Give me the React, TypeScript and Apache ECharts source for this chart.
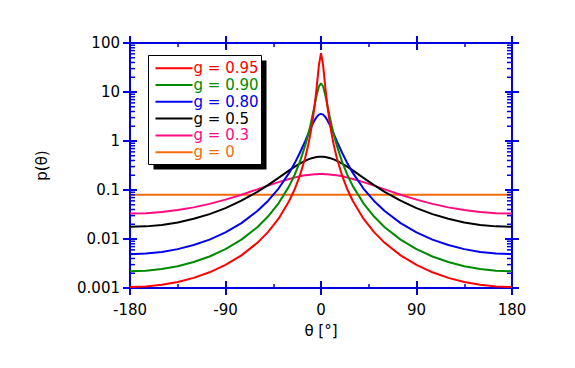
import React, { useEffect, useRef } from "react";
import * as echarts from "echarts";

const angles = [-180,-165,-150,-135,-120,-105,-90,-75,-60,-50,-40,-30,-25,-20,-15,-12,-10,-8,-6,-4,-2,0,2,4,6,8,10,12,15,20,25,30,40,50,60,75,90,105,120,135,150,165,180];

const g95 = [0.00105,0.00107,0.00116,0.00133,0.00161,0.00209,0.00296,0.00463,0.00835,0.0138,0.0260,0.0595,0.101,0.194,0.445,0.840,1.40,2.55,5.29,12.9,35.1,62.1,35.1,12.9,5.29,2.55,1.40,0.840,0.445,0.194,0.101,0.0595,0.0260,0.0138,0.00835,0.00463,0.00296,0.00209,0.00161,0.00133,0.00116,0.00107,0.00105];
const g90 = [0.00220,0.00226,0.00245,0.00279,0.00339,0.00440,0.00621,0.00970,0.0174,0.0287,0.0534,0.120,0.200,0.370,0.794,1.38,2.10,3.31,5.40,8.76,12.9,15.1,12.9,8.76,5.40,3.31,2.10,1.38,0.794,0.370,0.200,0.120,0.0534,0.0287,0.0174,0.00970,0.00621,0.00440,0.00339,0.00279,0.00245,0.00226,0.00220];
const g80 = [0.00491,0.00504,0.00544,0.00621,0.00752,0.00973,0.0136,0.0211,0.0372,0.0599,0.107,0.223,0.346,0.568,0.986,1.40,1.76,2.19,2.66,3.11,3.45,3.58,3.45,3.11,2.66,2.19,1.76,1.40,0.986,0.568,0.346,0.223,0.107,0.0599,0.0372,0.0211,0.0136,0.00973,0.00752,0.00621,0.00544,0.00504,0.00491];
const g50 = [0.0177,0.0181,0.0194,0.0218,0.0258,0.0322,0.0427,0.0605,0.0919,0.126,0.177,0.251,0.296,0.345,0.394,0.421,0.437,0.451,0.462,0.471,0.476,0.477,0.476,0.471,0.462,0.451,0.437,0.421,0.394,0.345,0.296,0.251,0.177,0.126,0.0919,0.0605,0.0427,0.0322,0.0258,0.0218,0.0194,0.0181,0.0177];
const g30 = [0.0330,0.0336,0.0355,0.0389,0.0442,0.0521,0.0636,0.0801,0.103,0.123,0.145,0.168,0.179,0.190,0.199,0.203,0.205,0.207,0.209,0.210,0.211,0.211,0.211,0.210,0.209,0.207,0.205,0.203,0.199,0.190,0.179,0.168,0.145,0.123,0.103,0.0801,0.0636,0.0521,0.0442,0.0389,0.0355,0.0336,0.0330];
const anglesFlat = [-180, 180];
const g0 = [0.0796, 0.0796];

const seriesLabels = ["g = 0.95", "g = 0.90", "g = 0.80", "g = 0.5", "g = 0.3", "g = 0"];
const seriesColors = ["#ff0000", "#008a00", "#0000ee", "#000000", "#ff0a80", "#f26c0c"];

const yMinorTicks = [0.001, 0.01, 0.1, 1, 10].flatMap((d) => [2, 3, 4, 5, 6, 7, 8, 9].map((m) => Number((m * d).toPrecision(2))));

const AXIS = "#0000e0";
const FONT = "DejaVu Sans";

export default function App() {
  const ref = useRef<HTMLDivElement>(null);
  useEffect(() => {
    if (!ref.current) return;
    const chart = echarts.init(ref.current, undefined, { renderer: "svg" });
    const seriesData = [g95, g90, g80, g50, g30];
    const lineSeries: any[] = seriesData.map((arr, i) => ({
      name: seriesLabels[i],
      type: "line",
      xAxisIndex: 0,
      yAxisIndex: 0,
      data: angles.map((a, k) => [a, arr[k]]),
      showSymbol: false,
      lineStyle: { color: seriesColors[i], width: 2 },
      itemStyle: { color: seriesColors[i] },
      z: 10 - i,
    }));
    lineSeries.push({
      name: seriesLabels[5],
      type: "line",
      xAxisIndex: 0,
      yAxisIndex: 0,
      data: anglesFlat.map((a, k) => [a, g0[k]]),
      showSymbol: false,
      lineStyle: { color: seriesColors[5], width: 2 },
      itemStyle: { color: seriesColors[5] },
      z: 3,
    });
    lineSeries.push({
      type: "custom",
      xAxisIndex: 0,
      yAxisIndex: 0,
      clip: false,
      silent: true,
      z: 20,
      data: yMinorTicks.map((v) => [0, v]),
      encode: { x: 0, y: 1 },
      renderItem: (params: any, api: any) => {
        const v = api.value(1);
        const pL = api.coord([-180, v]);
        const pR = api.coord([180, v]);
        return {
          type: "group",
          children: [
            { type: "line", shape: { x1: pL[0], y1: pL[1], x2: pL[0] + 5, y2: pL[1] }, style: { stroke: AXIS, lineWidth: 1.5 } },
            { type: "line", shape: { x1: pR[0], y1: pR[1], x2: pR[0] - 5, y2: pR[1] }, style: { stroke: AXIS, lineWidth: 1.5 } },
          ],
        };
      },
    });

    const xBase = (gridIndex: number, position: string, inside: boolean, withLabels: boolean, withLine: boolean) => ({
      type: "value",
      gridIndex,
      position,
      min: -180,
      max: 180,
      interval: 90,
      axisLine: { show: withLine, onZero: false, lineStyle: { color: AXIS, width: 2 } },
      axisTick: { show: true, inside, length: 7, lineStyle: { color: AXIS, width: 2 } },
      minorTick: { show: inside, splitNumber: 2, length: 4, lineStyle: { color: AXIS, width: 1.5 } },
      splitLine: { show: false },
      axisLabel: { show: withLabels, color: "#000", fontFamily: FONT, fontSize: 15, margin: 14 },
    });
    const yBase = (gridIndex: number, position: string, inside: boolean, withLabels: boolean, withLine: boolean) => ({
      type: "log",
      logBase: 10,
      gridIndex,
      position,
      min: 0.001,
      max: 100,
      axisLine: { show: withLine, onZero: false, lineStyle: { color: AXIS, width: 2 } },
      axisTick: { show: true, inside, length: 7, lineStyle: { color: AXIS, width: 2 } },
      splitLine: { show: false },
      axisLabel: {
        show: withLabels,
        color: "#000",
        fontFamily: FONT,
        fontSize: 15,
        margin: 10,
        formatter: (v: number) => String(Number(v.toPrecision(1))),
      },
    });

    const x0: any = xBase(0, "bottom", true, true, true);
    x0.name = "θ [°]";
    x0.nameLocation = "middle";
    x0.nameGap = 35;
    x0.nameTextStyle = { color: "#000", fontFamily: FONT, fontSize: 15 };
    const y0: any = yBase(0, "left", true, true, true);
    y0.name = "p(θ)";
    y0.nameLocation = "middle";
    y0.nameGap = 81;
    y0.nameTextStyle = { color: "#000", fontFamily: FONT, fontSize: 15 };

    const legendChildren: any[] = [
      { type: "rect", shape: { x: 5, y: 5, width: 113, height: 109 }, style: { fill: "#000" } },
      { type: "rect", shape: { x: 0, y: 0, width: 113, height: 109 }, style: { fill: "#fff", stroke: "#000", lineWidth: 1 } },
    ];
    seriesLabels.forEach((label, i) => {
      const y = 12.7 + i * 16.8;
      legendChildren.push({ type: "line", shape: { x1: 7, y1: y, x2: 44, y2: y }, style: { stroke: seriesColors[i], lineWidth: 2 } });
      legendChildren.push({
        type: "text",
        x: 45,
        y,
        style: { text: label, fill: seriesColors[i], font: `15px "${FONT}"`, textVerticalAlign: "middle", verticalAlign: "middle" },
      });
    });

    chart.setOption({
      animation: false,
      backgroundColor: "#fff",
      grid: [
        { left: 130, right: 63, top: 43, bottom: 80 },
        { left: 130, right: 63, top: 43, bottom: 80 },
      ],
      xAxis: [
        x0,
        xBase(0, "top", true, false, true),
        xBase(1, "bottom", false, false, false),
        xBase(1, "top", false, false, false),
      ],
      yAxis: [
        y0,
        yBase(0, "right", true, false, true),
        yBase(1, "left", false, false, false),
        yBase(1, "right", false, false, false),
      ],
      series: lineSeries,
      graphic: [{ type: "group", left: 148, top: 55, z: 100, children: legendChildren }],
    });
    return () => chart.dispose();
  }, []);
  return <div ref={ref} style={{ position: "absolute", left: 0, top: 0, width: 575, height: 368 }} />;
}
